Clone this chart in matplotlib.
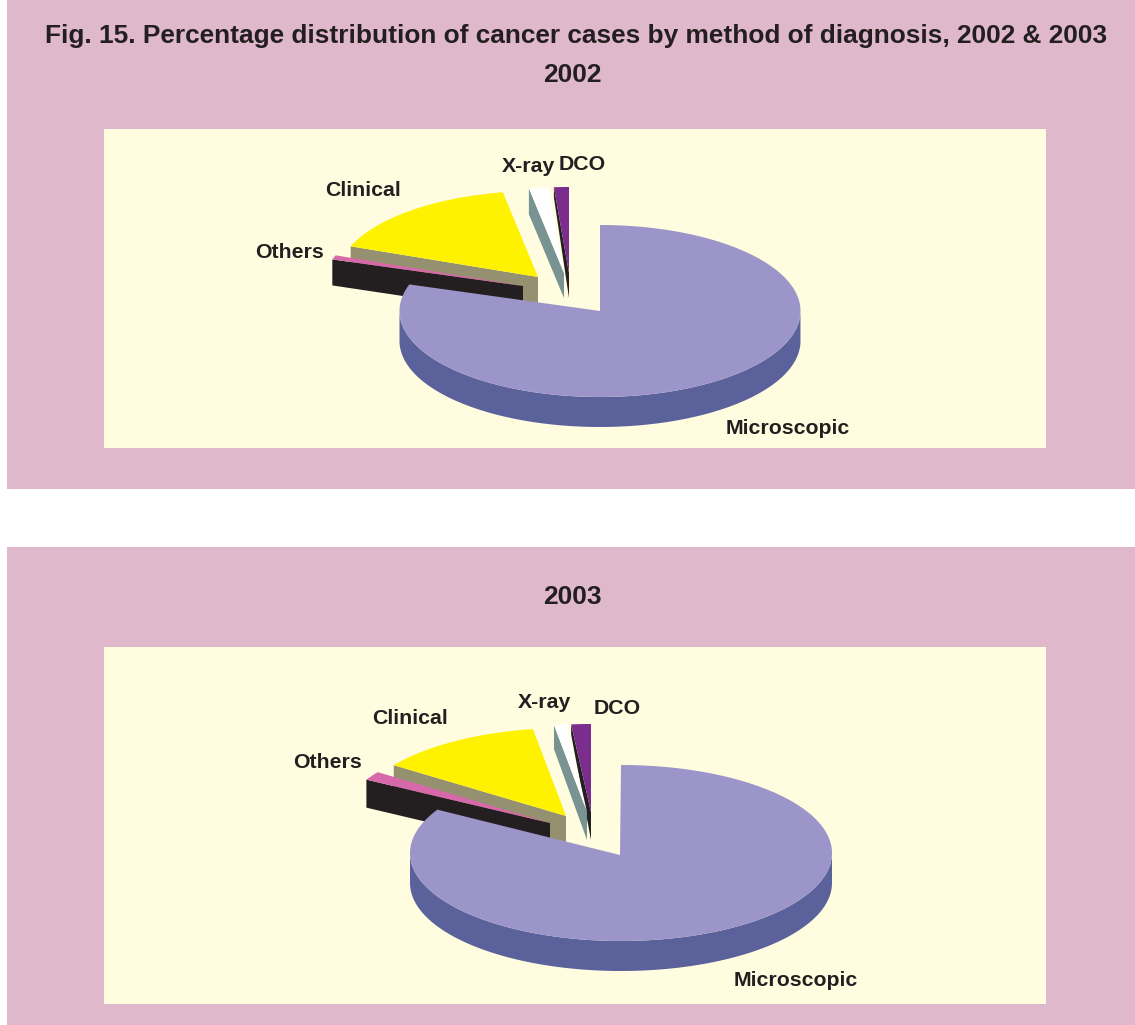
import numpy as np
import matplotlib as mpl
mpl.use('Agg')
import matplotlib.pyplot as plt
from matplotlib.patches import Rectangle, Polygon

plt.rcParams['font.family'] = ['Liberation Sans', 'DejaVu Sans']

categories = ['Microscopic', 'Others', 'Clinical', 'X-ray', 'DCO']
pct_2002 = [80.0, 0.8, 16.4, 1.6, 1.2]
pct_2003 = [83.2, 1.6, 12.7, 1.0, 1.5]

top_cols = ['#9B95C9', '#D768A9', '#FFF200', '#FFFFFF', '#7B2D8E']
side_cols = ['#5B629B', '#231F20', '#959170', '#789391', '#231F20']
ink = '#231F20'
panel = '#E0B8CB'
cream = '#FFFCDF'

W, H = 1135, 1025
fig = plt.figure(figsize=(W/100, H/100), dpi=100)
ax = fig.add_axes([0, 0, 1, 1])
ax.set_xlim(0, W)
ax.set_ylim(H, 0)
ax.axis('off')


def pie3d(pct, centre, rx, ry, apexes, apex_depth, outer_depth):
    # percentages run clockwise from 12 o'clock, image y goes down
    edges = np.cumsum([0] + list(pct))*3.6*np.pi/180
    z = 3
    for i in [4, 3, 2, 1, 0]:
        t = np.linspace(edges[i], edges[i+1], 200)
        px, py = apexes[i]
        cx, cy = (centre if i == 0 else apexes[i])
        xs = cx + rx*np.sin(t)
        ys = cy - ry*np.cos(t)
        if i == 0:
            # rim of the big slice, only the part that faces us
            tf = t[(t > np.pi/2) & (t < 3*np.pi/2)]
            fx = cx + rx*np.sin(tf)
            fy = cy - ry*np.cos(tf)
            rim = np.column_stack([np.r_[fx, fx[::-1]], np.r_[fy, fy[::-1]+apex_depth[i]]])
            ax.add_patch(Polygon(rim, fc=side_cols[i], ec='none', zorder=z))
        else:
            # flat side face along the slice's left edge
            face = [(px, py), (xs[0], ys[0]), (xs[0], ys[0]+outer_depth[i]), (px, py+apex_depth[i])]
            ax.add_patch(Polygon(face, fc=side_cols[i], ec='none', zorder=z))
        top = np.column_stack([np.r_[px, xs], np.r_[py, ys]])
        ax.add_patch(Polygon(top, fc=top_cols[i], ec='none', zorder=z+0.5))
        z += 1


# panels
ax.add_patch(Rectangle((7, 0), W-7, 489, fc=panel, ec='none'))
ax.add_patch(Rectangle((7, 547), W-7, 478, fc=panel, ec='none'))
ax.add_patch(Rectangle((104, 129), 942, 319, fc=cream, ec='none'))
ax.add_patch(Rectangle((104, 647), 942, 357, fc=cream, ec='none'))

ax.text(576, 36, 'Fig. 15. Percentage distribution of cancer cases by method of diagnosis, 2002 & 2003',
        ha='center', va='center', fontsize=18.9, fontweight='bold', color=ink)
ax.text(572, 75, '2002', ha='center', va='center', fontsize=19, fontweight='bold', color=ink)
ax.text(572, 597, '2003', ha='center', va='center', fontsize=19, fontweight='bold', color=ink)

pie3d(pct_2002, (600, 311), 200.5, 86,
      [(600, 311), (523, 286), (538, 277), (564, 273), (569, 273)],
      [30, 28, 30, 25, 25], [30, 26, 24, 26, 10])
pie3d(pct_2003, (621, 853), 211, 88,
      [(620, 855), (550, 823), (566, 816), (587, 812), (591, 812)],
      [30, 28, 30, 28, 28], [30, 28, 24, 24, 10])

pos_2002 = [(788, 428), (289, 252), (363, 191), (528, 166), (582, 165)]
pos_2003 = [(796, 981), (327, 763), (410, 719), (545, 703), (617, 708)]
for pos in (pos_2002, pos_2003):
    for name, (x, y) in zip(categories, pos):
        ax.text(x, y, name, ha='center', va='center', fontsize=15.3, fontweight='bold', color=ink, zorder=20)

fig.savefig('out.png', dpi=100, facecolor='white')
plt.close()
